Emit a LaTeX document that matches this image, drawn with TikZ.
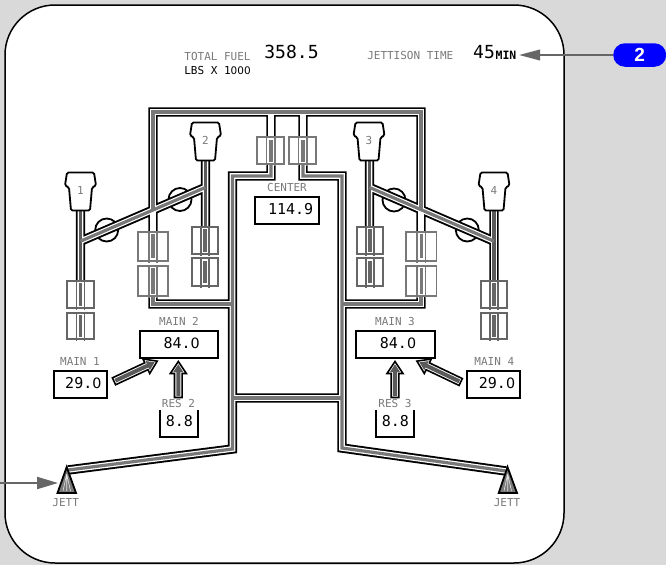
\documentclass[tikz,border=0pt]{standalone}
\usepackage{fontspec}
\usetikzlibrary{arrows.meta}
\newfontfamily\dispfont{DejaVu Sans Mono}
\newfontfamily\zerofont[Scale=0.95]{DejaVu Sans}
\newfontfamily\badgefont{Liberation Sans}
\newcommand{\zr}{{\zerofont 0}}
\definecolor{panelgray}{HTML}{D9D9D9}
\definecolor{coregray}{HTML}{787878}
\definecolor{feedgray}{HTML}{5A5A5A}
\definecolor{textgray}{HTML}{7A7A7A}
\definecolor{callgray}{HTML}{666666}
\tikzset{
  pipe/.style={draw=black,line width=9.4pt,line join=miter,postaction={draw=white,line width=5.6pt}},
  core/.style={draw=coregray,line width=3.2pt,line join=miter},
  feedcore/.style={draw=feedgray,line width=3.5pt},
  graylabel/.style={font=\dispfont\fontsize{11}{11}\selectfont,text=textgray,inner sep=0pt},
  blacklabel/.style={font=\dispfont\fontsize{11}{11}\selectfont,text=black,inner sep=0pt},
  readout/.style={font=\dispfont\fontsize{15}{15}\selectfont,text=black,inner sep=0pt},
  bigread/.style={font=\dispfont\fontsize{18}{18}\selectfont,text=black,inner sep=0pt},
  tankbox/.style={draw=black,line width=2pt,fill=white,inner sep=0pt,outer sep=0pt},
  callarrow/.style={draw=callgray,line width=2pt,-{Triangle[length=21pt,width=#1]}},
  pics/valve/.style n args={3}{code={
    \draw[#1,line width=1.8pt,fill=white] (-#2/2,-#3/2) rectangle (#2/2,#3/2);
    \draw[#1,line width=1.5pt] (-4.2,-#3/2) -- (-4.2,#3/2+2) (4.2,-#3/2) -- (4.2,#3/2+2);
    \draw[#1,line width=3.4pt] (0,-#3/2+2.5) -- (0,#3/2-2.5);
  }},
  pics/engine/.style={code={
    \draw[black,line width=1.8pt,fill=white,rounded corners=1.5pt]
      (-13.5,0) -- (13.5,0) -- (15.5,13) -- (11.5,15) -- (9.5,38) -- (-9.5,38) -- (-11.5,15) -- (-15.5,13) -- cycle;
    \node[graylabel] (-num) at (0,18) {#1};
  }},
  pics/xfer/.style={code={
    \draw[black,line width=1.6pt,fill=white,line join=miter]
      (0,-3.8) -- (#1-12,-3.8) -- (#1-12,-8) -- (#1,0) -- (#1-12,8) -- (#1-12,3.8) -- (0,3.8) -- cycle;
    \fill[feedgray] (1.5,-2) -- (#1-10.5,-2) -- (#1-10.5,-5) -- (#1-2.8,0) -- (#1-10.5,5) -- (#1-10.5,2) -- (1.5,2) -- cycle;
  }}
}
\begin{document}
\begin{tikzpicture}[x=1pt,y=-1pt]
    \useasboundingbox (0,0) rectangle (666,565);
    % Panel
    \fill[panelgray] (0,0) rectangle (666,565);
    \draw[black,line width=1.5pt,fill=white,rounded corners=50pt] (5,5) rectangle (564,563);

    % Crossfeed valve circles
    \draw[black,line width=1.8pt,fill=white] (106.7,230) circle (11.5);
    \draw[black,line width=1.8pt,fill=white] (180,199.5) circle (11.5);
    \draw[black,line width=1.8pt,fill=white] (394,200) circle (11.5);
    \draw[black,line width=1.8pt,fill=white] (467.3,230) circle (11.5);

    % Pipe walls, all one path so the junctions stay open
    \path[pipe] (153,233) -- (153,112) -- (421,112) -- (421,233)
      (232.5,304) -- (153,304) -- (153,295) (342,304) -- (421,304) -- (421,295)
      (271,112) -- (271,176) -- (232.5,176) -- (232.5,449) -- (68,470)
      (303,112) -- (303,176) -- (342,176) -- (342,448) -- (506,471)
      (232.5,398) -- (342,398)
      (80.5,205) -- (80.5,282) (205.5,155) -- (205.5,228)
      (369.5,155) -- (369.5,228) (494,205) -- (494,282)
      (80.5,241.2) -- (205.5,187.4) (369.5,187.4) -- (494,241.2);

    % Pipe centres
    \draw[core] (153,210) -- (153,112) -- (421,112) -- (421,210);
    \draw[core] (153,290) -- (153,304) -- (232.5,304);
    \draw[core] (421,290) -- (421,304) -- (342,304);
    \draw[core] (271,150) -- (271,176) -- (232.5,176) -- (232.5,449) -- (68,470);
    \draw[core] (303,150) -- (303,176) -- (342,176) -- (342,448) -- (506,471);
    \draw[core] (232.5,398) -- (342,398);
    \draw[feedcore] (80.5,205) -- (80.5,282);
    \draw[feedcore] (205.5,155) -- (205.5,228);
    \draw[feedcore] (369.5,155) -- (369.5,228);
    \draw[feedcore] (494,205) -- (494,282);
    \draw[core] (80.5,241.2) -- (205.5,187.4);
    \draw[core] (369.5,187.4) -- (494,241.2);

    % Valve boxes
    \pic at (270.8,150.7) {valve={coregray}{27}{26.7}};
    \pic at (302.8,150.7) {valve={coregray}{27}{26.7}};
    \pic at (153,246.3) {valve={coregray}{30.6}{29.3}};
    \pic at (153,281) {valve={coregray}{30.6}{30.6}};
    \pic at (421.2,246.3) {valve={coregray}{30.6}{29.3}};
    \pic at (421.2,281) {valve={coregray}{30.6}{30.6}};
    \pic at (205,240.5) {valve={callgray}{26.6}{27.6}};
    \pic at (205,272) {valve={callgray}{26.6}{27.6}};
    \pic at (370,240.5) {valve={callgray}{26.6}{27.6}};
    \pic at (370,272) {valve={callgray}{26.6}{27.6}};
    \pic at (80.5,294.5) {valve={callgray}{27.6}{27.5}};
    \pic at (80.5,326) {valve={callgray}{27.6}{26.6}};
    \pic at (494,294.5) {valve={callgray}{26.6}{27.5}};
    \pic at (494,326) {valve={callgray}{26.6}{26.6}};

    % Engines
    \pic (eng1) at (80.5,172.5) {engine=1};
    \pic (eng2) at (205.5,122.5) {engine=2};
    \pic (eng3) at (369,122.5) {engine=3};
    \pic (eng4) at (494,172.5) {engine=4};

    % Jettison nozzles
    \draw[black,line width=1.8pt,fill=coregray] (66.7,467) -- (57.5,493) -- (76,493) -- cycle;
    \draw[white!80!gray,line width=0.6pt] (66.7,474) -- (63,491) (66.7,474) -- (66.7,491) (66.7,474) -- (70.5,491);
    \draw[black,line width=1.8pt,fill=coregray] (507.5,467) -- (498.7,493) -- (517,493) -- cycle;
    \draw[white!80!gray,line width=0.6pt] (507.7,474) -- (504,491) (507.7,474) -- (507.7,491) (507.7,474) -- (511.5,491);
    \node[graylabel] (jettl) at (65.7,503) {JETT};
    \node[graylabel] (jettr) at (507,503) {JETT};

    % Header texts
    \node[graylabel] (totalfuel) at (217.5,56) {TOTAL FUEL};
    \node[blacklabel] (lbs) at (217.5,70) {LBS X 1\zr\zr\zr};
    \node[bigread] (fuelval) at (291.5,52) {358.5};
    \node[graylabel] (jetttime) at (410.3,55.5) {JETTISON TIME};
    \node[bigread] (jettval) at (484,52) {45};
    \node[font=\dispfont\bfseries\fontsize{11.5}{12}\selectfont,inner sep=0pt] (jettmin) at (506,55.5) {MIN};

    % Tank boxes
    \node[tankbox,minimum width=64,minimum height=27.5] (center) at (287,210.3) {};
    \node[tankbox,minimum width=78,minimum height=27.5] (main2) at (179.2,344.5) {};
    \node[tankbox,minimum width=53.6,minimum height=27.5] (main1) at (80.5,384.5) {};
    \node[tankbox,minimum width=78.6,minimum height=27.5] (main3) at (395.2,344.5) {};
    \node[tankbox,minimum width=53,minimum height=27.5] (main4) at (493.8,384.5) {};
    \draw[black,line width=2pt] (160,410) -- (160,437) -- (198,437) -- (198,410);
    \draw[black,line width=2pt] (376.3,410) -- (376.3,437) -- (414,437) -- (414,410);

    % Tank labels and quantities
    \node[graylabel] (centerlbl) at (287,187.5) {CENTER};
    \node[graylabel] (main2lbl) at (179,321) {MAIN 2};
    \node[graylabel] (main1lbl) at (80,361) {MAIN 1};
    \node[graylabel] (main3lbl) at (395,321) {MAIN 3};
    \node[graylabel] (main4lbl) at (494.3,361) {MAIN 4};
    \node[graylabel] (res2lbl) at (178.5,403) {RES 2};
    \node[graylabel] (res3lbl) at (395,403) {RES 3};
    \node[readout] (centerval) at (290.7,209) {114.9};
    \node[readout] (main2val) at (181.7,342.7) {84.\zr};
    \node[readout] (main1val) at (83.3,382.7) {29.\zr};
    \node[readout] (main3val) at (398,342.7) {84.\zr};
    \node[readout] (main4val) at (497,382.7) {29.\zr};
    \node[readout] (res2val) at (179.3,421) {8.8};
    \node[readout] (res3val) at (395.3,421) {8.8};

    % Transfer arrows
    \pic[rotate=25] at (114,381.3) {xfer=47.7};
    \pic[rotate=154.5] at (460.7,382) {xfer=48.5};
    \pic[rotate=90] at (178.3,397.5) {xfer=36};
    \pic[rotate=90] at (395,397.5) {xfer=36};

    % Callouts
    \node[fill=blue,rounded corners=11.7pt,minimum width=53,minimum height=23.5,inner sep=0pt,outer sep=0pt,
      text=white,font=\badgefont\bfseries\fontsize{19}{19}\selectfont] (badge) at (639.7,55) {2};
    \coordinate (jetttip) at (519,55);
    \draw[callarrow=10.5pt] (badge) -- (jetttip);
    \coordinate (leftend) at (0,483);
    \coordinate (lefttip) at (58,483);
    \draw[callarrow=12pt] (leftend) -- (lefttip);
\end{tikzpicture}
\end{document}
